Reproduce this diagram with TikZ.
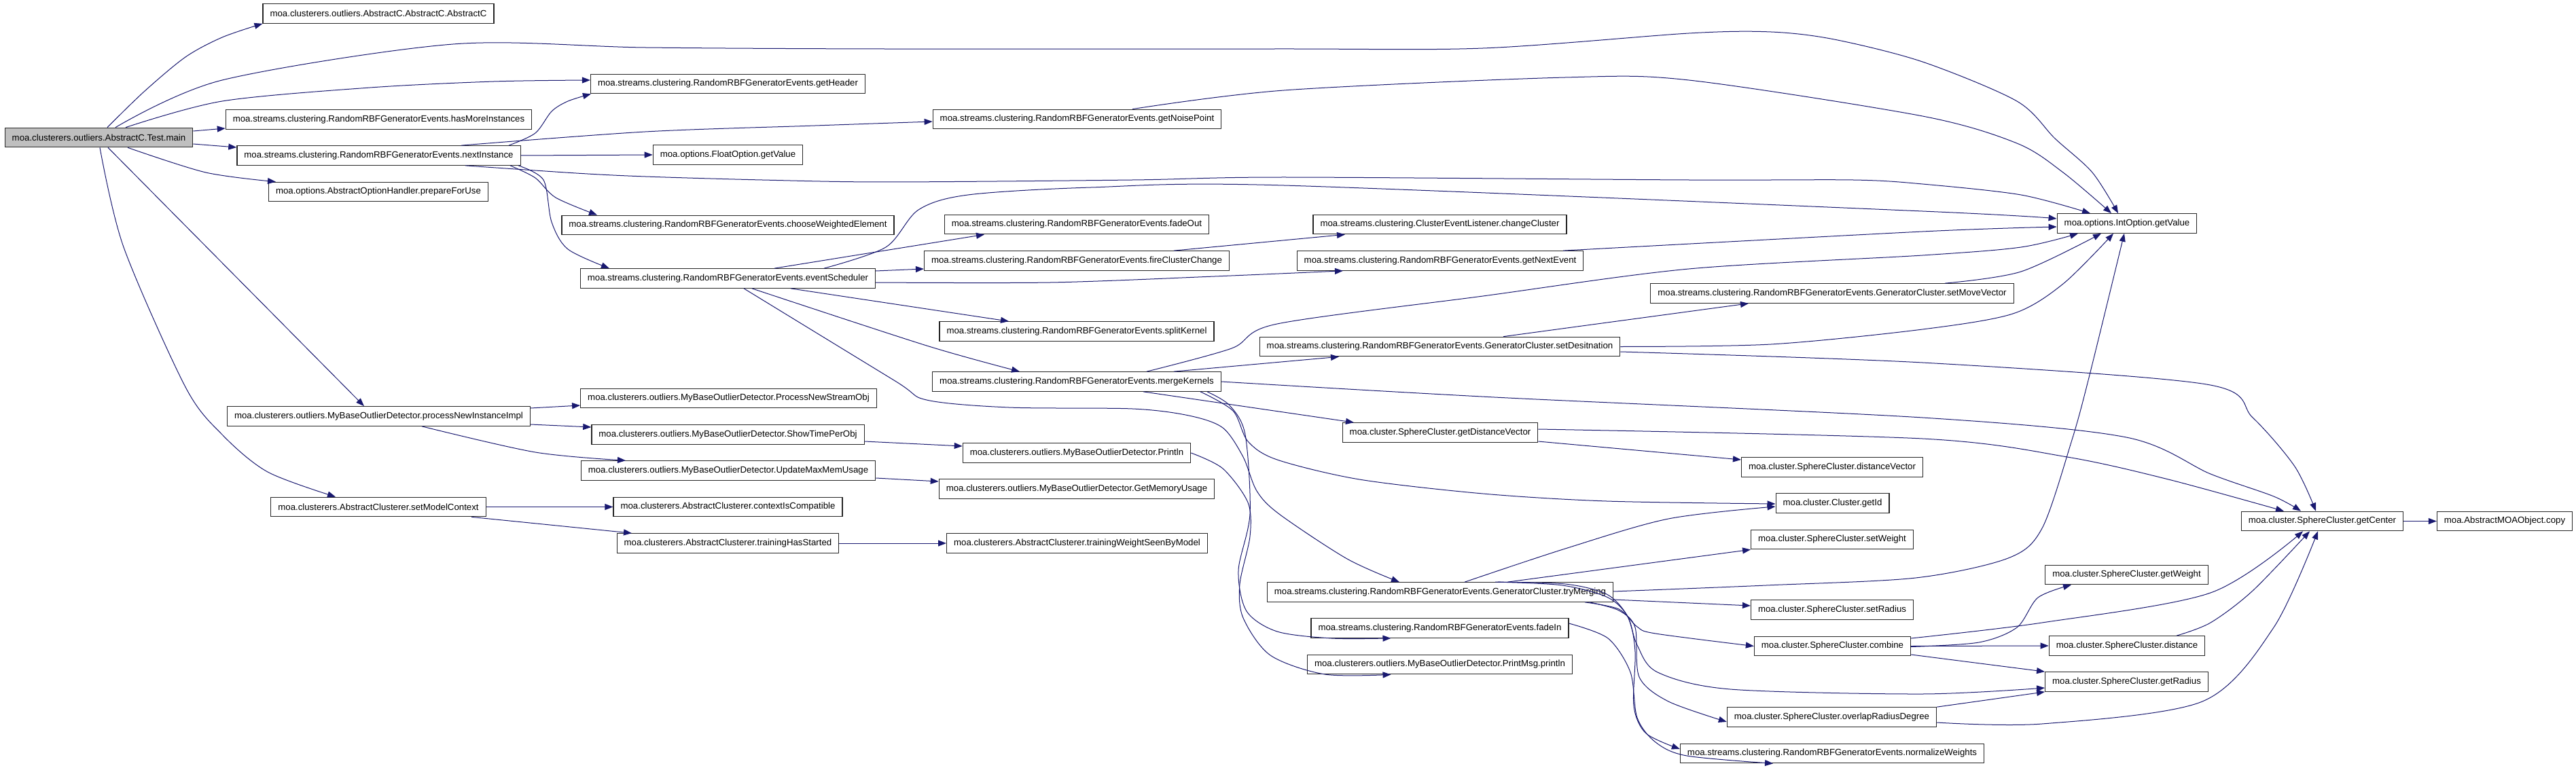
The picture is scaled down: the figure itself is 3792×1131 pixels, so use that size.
\documentclass[tikz,border=0pt]{standalone}
\usepackage{fontspec}
\setmainfont{Liberation Sans}
\usetikzlibrary{arrows.meta}
\definecolor{edgeblue}{HTML}{191970}
\definecolor{mainfill}{HTML}{BFBFBF}

\begin{document}
\begin{tikzpicture}[x=1pt, y=-1pt,
  box/.style={draw=black!85, line width=1.2pt, fill=white, font=\fontsize{13.25}{15}\selectfont,
    inner xsep=10.5pt, inner ysep=0pt, minimum height=28.5pt},
  arr/.style={-{Triangle[length=12pt,width=9pt]}, line width=1pt, edgeblue}]
  \useasboundingbox (0,0) rectangle (3792,1131);
  % caller and first level
  \node[box, fill=mainfill] (main) at (145.5,202.5) {moa.clusterers.outliers.AbstractC.Test.main};
  \node[box] (absC) at (557,20) {moa.clusterers.outliers.AbstractC.AbstractC.AbstractC};
  \node[box] (hasMore) at (557.5,176) {moa.streams.clustering.RandomRBFGeneratorEvents.hasMoreInstances};
  \node[box] (nextInst) at (557.5,229) {moa.streams.clustering.RandomRBFGeneratorEvents.nextInstance};
  \node[box] (prepUse) at (557,282.5) {moa.options.AbstractOptionHandler.prepareForUse};
  \node[box] (procNew) at (557.5,613) {moa.clusterers.outliers.MyBaseOutlierDetector.processNewInstanceImpl};
  \node[box] (setModel) at (557,746.5) {moa.clusterers.AbstractClusterer.setModelContext};
  % second level
  \node[box] (getHeader) at (1071.5,123.5) {moa.streams.clustering.RandomRBFGeneratorEvents.getHeader};
  \node[box] (floatVal) at (1071.5,228) {moa.options.FloatOption.getValue};
  \node[box] (chooseWE) at (1071.5,331.5) {moa.streams.clustering.RandomRBFGeneratorEvents.chooseWeightedElement};
  \node[box] (evSched) at (1071.5,410) {moa.streams.clustering.RandomRBFGeneratorEvents.eventScheduler};
  \node[box] (procStream) at (1072.5,586.5) {moa.clusterers.outliers.MyBaseOutlierDetector.ProcessNewStreamObj};
  \node[box] (showTime) at (1071.5,640) {moa.clusterers.outliers.MyBaseOutlierDetector.ShowTimePerObj};
  \node[box] (updMem) at (1072,693) {moa.clusterers.outliers.MyBaseOutlierDetector.UpdateMaxMemUsage};
  \node[box] (ctxCompat) at (1071.5,746.5) {moa.clusterers.AbstractClusterer.contextIsCompatible};
  \node[box] (trainStart) at (1071.5,800) {moa.clusterers.AbstractClusterer.trainingHasStarted};
  % third level
  \node[box] (noisePt) at (1585.5,175.5) {moa.streams.clustering.RandomRBFGeneratorEvents.getNoisePoint};
  \node[box] (fadeOut) at (1585,330.5) {moa.streams.clustering.RandomRBFGeneratorEvents.fadeOut};
  \node[box] (fireChange) at (1585,384) {moa.streams.clustering.RandomRBFGeneratorEvents.fireClusterChange};
  \node[box] (splitK) at (1585,488) {moa.streams.clustering.RandomRBFGeneratorEvents.splitKernel};
  \node[box] (mergeK) at (1585,562) {moa.streams.clustering.RandomRBFGeneratorEvents.mergeKernels};
  \node[box] (printIn) at (1585,667) {moa.clusterers.outliers.MyBaseOutlierDetector.Println};
  \node[box] (getMem) at (1585,720) {moa.clusterers.outliers.MyBaseOutlierDetector.GetMemoryUsage};
  \node[box] (trainWeight) at (1585.5,800) {moa.clusterers.AbstractClusterer.trainingWeightSeenByModel};
  % fourth level
  \node[box] (changeCl) at (2119.5,330.5) {moa.streams.clustering.ClusterEventListener.changeCluster};
  \node[box] (nextEvent) at (2120,384) {moa.streams.clustering.RandomRBFGeneratorEvents.getNextEvent};
  \node[box] (setDest) at (2119.5,510.5) {moa.streams.clustering.RandomRBFGeneratorEvents.GeneratorCluster.setDesitnation};
  \node[box] (getDistVec) at (2120,637) {moa.cluster.SphereCluster.getDistanceVector};
  \node[box] (tryMerge) at (2120,872) {moa.streams.clustering.RandomRBFGeneratorEvents.GeneratorCluster.tryMerging};
  \node[box] (fadeIn) at (2119.5,925) {moa.streams.clustering.RandomRBFGeneratorEvents.fadeIn};
  \node[box] (printMsg) at (2119.5,978.5) {moa.clusterers.outliers.MyBaseOutlierDetector.PrintMsg.println};
  % fifth level
  \node[box] (setMove) at (2697,432) {moa.streams.clustering.RandomRBFGeneratorEvents.GeneratorCluster.setMoveVector};
  \node[box] (distVec) at (2697,688) {moa.cluster.SphereCluster.distanceVector};
  \node[box] (getId) at (2697.5,741) {moa.cluster.Cluster.getId};
  \node[box] (setWeight) at (2697,794.5) {moa.cluster.SphereCluster.setWeight};
  \node[box] (setRadius) at (2697,898) {moa.cluster.SphereCluster.setRadius};
  \node[box] (combine) at (2697.5,951.5) {moa.cluster.SphereCluster.combine};
  \node[box] (overlap) at (2696.5,1056) {moa.cluster.SphereCluster.overlapRadiusDegree};
  \node[box] (normW) at (2697,1109.5) {moa.streams.clustering.RandomRBFGeneratorEvents.normalizeWeights};
  % last levels
  \node[box] (intVal) at (3131,329) {moa.options.IntOption.getValue};
  \node[box] (getWeight) at (3130.5,846.5) {moa.cluster.SphereCluster.getWeight};
  \node[box] (distance) at (3131,951) {moa.cluster.SphereCluster.distance};
  \node[box] (getRadius) at (3130.5,1004) {moa.cluster.SphereCluster.getRadius};
  \node[box] (getCenter) at (3418.5,767.5) {moa.cluster.SphereCluster.getCenter};
  \node[box] (copy) at (3687,767.5) {moa.AbstractMOAObject.copy};

  % calls from main
  \draw[arr] plot[smooth] coordinates {([xshift=12.5pt]main.north) (212,135) (273,84) (327,55) (absC.south west)};
  \draw[arr] plot[smooth] coordinates {([xshift=24.5pt]main.north) (327,118) (667,65) (950,70) (1300,72) (1880,72) (2183,71) (2486,49) (2607,47) (2700,58) (2830,91) (2969,149) (3025,204) (3080,254) ([xshift=-13pt]intVal.north)};
  \draw[arr] plot[smooth] coordinates {([xshift=39.5pt]main.north) (327,149) (545,129) (727,120) ([yshift=5.5pt]getHeader.west)};
  \draw[arr] ([yshift=9.5pt]main.east) -- ([yshift=-13pt]hasMore.west);
  \draw[arr] ([yshift=-9.5pt]main.east) -- ([yshift=12pt]nextInst.west);
  \draw[arr] plot[smooth] coordinates {([xshift=42.5pt]main.south) (303,254) ([xshift=-151pt]prepUse.north)};
  \draw[arr] ([xshift=13.5pt]main.south) -- ([xshift=-21.5pt]procNew.north);
  \draw[arr] plot[smooth] coordinates {([xshift=1.5pt]main.south) (182,364) (273,570) (327,640) (394,695) ([xshift=-63pt]setModel.north)};
  % calls from nextInstance
  \draw[arr] plot[smooth] coordinates {([xshift=191.5pt]nextInst.north) (788,196) (812,164) (836,149) ([xshift=1pt]getHeader.south west)};
  \draw[arr] plot[smooth] coordinates {([xshift=121.5pt]nextInst.north) (950,194) (1200,185) ([yshift=-3.5pt]noisePt.west)};
  \draw[arr] (nextInst.east) -- (floatVal.west);
  \draw[arr] plot[smooth] coordinates {([xshift=127.5pt]nextInst.south) (848,255) (950,260) (1122,265) (1304,268) (1667,265) (1890,261) (2486,265) (2728,265) (2830,271) (2975,287) ([xshift=-54pt]intVal.north)};
  \draw[arr] plot[smooth] coordinates {([xshift=193.5pt]nextInst.south) (788,262) (818,291) ([xshift=-192.5pt]chooseWE.north)};
  \draw[arr] plot[smooth] coordinates {([xshift=205.5pt]nextInst.south) (800,265) (812,327) (836,367) ([xshift=-174.5pt]evSched.north)};
  \draw[arr] plot[smooth] coordinates {([xshift=81.5pt]noisePt.north) (1890,133) (2304,114) (2486,118) (2830,171) (2969,211) (3037,254) ([xshift=-23pt]intVal.north)};
  % outlier detector and clusterer
  \draw[arr] ([yshift=12pt]procNew.east) -- ([yshift=-10.5pt]procStream.west);
  \draw[arr] ([yshift=-12pt]procNew.east) -- ([yshift=11pt]showTime.west);
  \draw[arr] plot[smooth] coordinates {([xshift=63.5pt]procNew.south) (788,666) ([xshift=-151pt]updMem.north)};
  \draw[arr] (setModel.east) -- (ctxCompat.west);
  \draw[arr] ([xshift=137pt]setModel.south) -- ([xshift=-141.5pt]trainStart.north);
  \draw[arr] (trainStart.east) -- (trainWeight.west);
  \draw[arr] ([yshift=-10pt]showTime.east) -- ([yshift=10pt]printIn.west);
  \draw[arr] ([yshift=-11pt]updMem.east) -- ([yshift=11pt]getMem.west);
  \draw[arr] plot[smooth] coordinates {(printIn.east) (1800,690) (1837,740) (1840,790) (1825,860) (1830,910) (1870,965) (1950,993) ([xshift=-72pt]printMsg.south)};
  % calls from eventScheduler
  \draw[arr] ([xshift=68.5pt]evSched.north) -- ([xshift=-136pt]fadeOut.south);
  \draw[arr] ([yshift=11pt]evSched.east) -- ([yshift=-12pt]fireChange.west);
  \draw[arr] plot[smooth] coordinates {([yshift=-6pt]evSched.east) (1546,416) (1788,407) ([xshift=-143pt]nextEvent.south)};
  \draw[arr] plot[smooth] coordinates {([xshift=141.5pt]evSched.north) (1304,364) (1352,309) (1425,287) (1606,276) (1890,273) (2830,311) ([yshift=7pt]intVal.west)};
  \draw[arr] ([xshift=92.5pt]evSched.south) -- ([xshift=-100pt]splitK.north);
  \draw[arr] plot[smooth] coordinates {([xshift=35.5pt]evSched.south) (1364,509) ([xshift=-84pt]mergeK.north)};
  \draw[arr] plot[smooth] coordinates {([xshift=23.5pt]evSched.south) (1316,560) (1364,589) (1485,600) (1667,602) (1750,612) (1800,630) (1830,673) (1850,723) (1883,757) (1983,823) ([xshift=-60pt]tryMerge.north)};
  \draw[arr] ([xshift=143pt]fireChange.north) -- ([xshift=-139.5pt]changeCl.south);
  \draw[arr] plot[smooth] coordinates {([xshift=181pt]nextEvent.north) (2830,341) ([yshift=-5pt]intVal.west)};
  % calls from mergeKernels
  \draw[arr] ([xshift=143pt]mergeK.north) -- ([xshift=-148.5pt]setDest.south);
  \draw[arr] plot[smooth] coordinates {([xshift=103pt]mergeK.north) (1813,513) (1880,477) (2183,436) (2486,396) (2830,376) (2975,364) ([xshift=-72pt]intVal.south)};
  \draw[arr] plot[smooth] coordinates {(mergeK.east) (2200,585) (2830,615) (3130,644) (3254,698) (3347,731) ([xshift=-31.5pt]getCenter.north)};
  \draw[arr] ([xshift=98pt]mergeK.south) -- ([xshift=-127pt]getDistVec.north);
  \draw[arr] plot[smooth] coordinates {([xshift=182pt]mergeK.south) (1815,605) (1837,650) (1880,677) (2001,706) (2183,727) (2365,738) ([yshift=-1pt]getId.west)};
  \draw[arr] plot[smooth] coordinates {([xshift=192pt]mergeK.south) (1810,597) (1833,640) (1840,757) (1823,840) (1835,900) (1880,930) (1960,940) ([xshift=-72pt]fadeIn.south)};
  % calls from setDesitnation and getDistanceVector
  \draw[arr] ([xshift=93.5pt]setDest.north) -- ([xshift=-123pt]setMove.south);
  \draw[arr] plot[smooth] coordinates {(setDest.east) (2607,507) (2830,485) (2963,462) (3037,418) ([xshift=-20pt]intVal.south)};
  \draw[arr] plot[smooth] coordinates {([yshift=-7.5pt]setDest.east) (2830,534) (3248,566) (3316,615) (3378,687) ([xshift=-9.5pt]getCenter.north)};
  \draw[arr] plot[smooth] coordinates {([xshift=166pt]setMove.north) (2975,400) ([xshift=-38pt]intVal.south)};
  \draw[arr] plot[smooth] coordinates {([yshift=5pt]getDistVec.east) (2830,646) (3043,673) (3192,706) ([xshift=-56.5pt]getCenter.north)};
  \draw[arr] ([yshift=-13pt]getDistVec.east) -- ([yshift=11pt]distVec.west);
  % calls from tryMerging
  \draw[arr] plot[smooth] coordinates {([xshift=36pt]tryMerge.north) (2304,808) (2456,764) ([yshift=-5pt]getId.west)};
  \draw[arr] ([xshift=99pt]tryMerge.north) -- (setWeight.south west);
  \draw[arr] plot[smooth] coordinates {([yshift=1pt]tryMerge.east) (2600,862) (2820,851) (2956,822) (3006,778) (3049,651) (3074,560) ([xshift=-4pt]intVal.south)};
  \draw[arr] ([yshift=-11pt]tryMerge.east) -- ([yshift=6pt]setRadius.west);
  \draw[arr] plot[smooth] coordinates {([xshift=213pt]tryMerge.south) (2383,897) (2410,923) (2437,933) (combine.west)};
  \draw[arr] plot[smooth] coordinates {([xshift=81pt]tryMerge.north) (2304,860) (2365,875) (2395,906) (2410,950) (2440,990) (2547,1015) (2830,1022) ([yshift=-9pt]getRadius.west)};
  \draw[arr] plot[smooth] coordinates {([xshift=220pt]tryMerge.south) (2383,899) (2407,924) (2413,997) (2456,1033) ([yshift=-7pt]overlap.west)};
  \draw[arr] plot[smooth] coordinates {([xshift=85pt]tryMerge.north) (2300,862) (2367,880) (2397,910) (2407,960) (2405,1040) (2423,1080) ([yshift=6.5pt]normW.west)};
  \draw[arr] plot[smooth] coordinates {([yshift=7pt]fadeIn.east) (2367,940) (2400,990) (2410,1057) (2437,1093) (2483,1113) ([xshift=-87pt]normW.south)};
  % sphere cluster calls
  \draw[arr] plot[smooth] coordinates {([yshift=-1pt]combine.east) (2913,946) (2969,924) (3000,880) ([xshift=-81.5pt]getWeight.south)};
  \draw[arr] plot[smooth] coordinates {([yshift=11.5pt]combine.east) (3006,917) (3254,873) ([xshift=-28.5pt]getCenter.south)};
  \draw[arr] (combine.east) -- (distance.west);
  \draw[arr] ([yshift=-12.5pt]combine.east) -- (getRadius.north west);
  \draw[arr] plot[smooth] coordinates {([xshift=73pt]distance.north) (3254,917) (3316,870) ([xshift=-18.5pt]getCenter.south)};
  \draw[arr] (overlap.north east) -- (getRadius.south west);
  \draw[arr] plot[smooth] coordinates {([yshift=-8pt]overlap.east) (3006,1066) (3242,1033) (3347,924) ([xshift=-6.5pt]getCenter.south)};
  \draw[arr] (getCenter.east) -- (copy.west);
\end{tikzpicture}
\end{document}
